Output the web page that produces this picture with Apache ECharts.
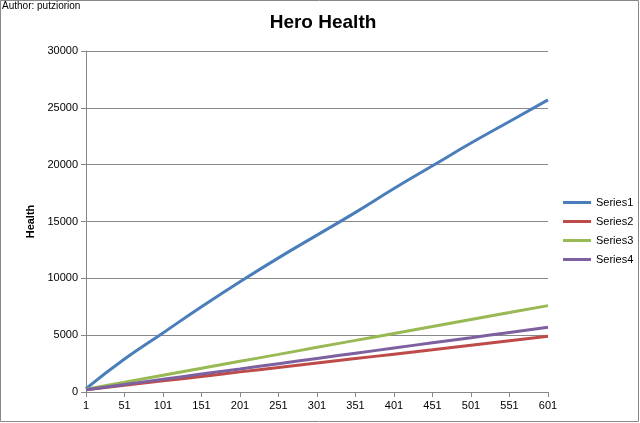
<!DOCTYPE html><html><head><meta charset="utf-8"><script src="https://cdn.jsdelivr.net/npm/echarts@6/dist/echarts.min.js"></script>
<style>html,body{margin:0;background:#fff}#c{width:640px;height:423px}</style></head><body><div id="c"></div><script>
const categories=['1','51','101','151','201','251','301','351','401','451','501','551','601'];
const series1=[300,2900,5200,7500,9700,11800,13800,15800,17900,19900,21900,23800,25700];
const series2=[200,590,980,1370,1770,2160,2550,2940,3330,3720,4120,4510,4900];
const series3=[250,860,1480,2090,2700,3310,3930,4540,5150,5760,6380,6990,7600];
const series4=[200,660,1120,1580,2030,2490,2950,3410,3870,4330,4780,5240,5700];
const names=['Series1','Series2','Series3','Series4'];
const colors=['#4a7ebb','#be4b48','#98b954','#7d60a0'];
const ch=echarts.init(document.getElementById('c'));
ch.setOption({
animation:false,
graphic:[{type:'rect',shape:{x:0.5,y:0.5,width:638,height:421},style:{fill:'none',stroke:'#888'}},
{type:'text',left:2,top:1,style:{text:'Author: putziorion',font:'10px Arial',fill:'#000'}}],
title:{text:'Hero Health',left:318,top:8,textAlign:'center',textStyle:{fontFamily:'Arial',fontSize:19,fontWeight:'bold',color:'#000'}},
legend:{orient:'vertical',left:558,top:192,itemGap:8,itemWidth:28,itemHeight:3,icon:'rect',textStyle:{fontFamily:'Arial',fontSize:11,color:'#000'},data:names},
grid:{left:86,right:92,top:51,bottom:31},
xAxis:{type:'category',data:categories,boundaryGap:false,axisLine:{lineStyle:{color:'#888'}},axisTick:{show:true,inside:false,lineStyle:{color:'#888'}},axisLabel:{color:'#000',fontFamily:'Arial',fontSize:11}},
yAxis:{type:'value',min:0,max:30000,interval:5000,name:'Health',nameLocation:'middle',nameGap:48,nameTextStyle:{fontFamily:'Arial',fontWeight:'bold',fontSize:11,color:'#000'},axisLine:{show:true,lineStyle:{color:'#888'}},axisTick:{show:true,lineStyle:{color:'#888'}},axisLabel:{color:'#000',fontFamily:'Arial',fontSize:11,formatter:v=>String(v)},splitLine:{lineStyle:{color:'#888'}}},
series:[series1,series2,series3,series4].map((d,i)=>({name:names[i],type:'line',data:d,smooth:true,symbol:'none',lineStyle:{width:3,color:colors[i]},itemStyle:{color:colors[i]}}))
});
</script></body></html>
